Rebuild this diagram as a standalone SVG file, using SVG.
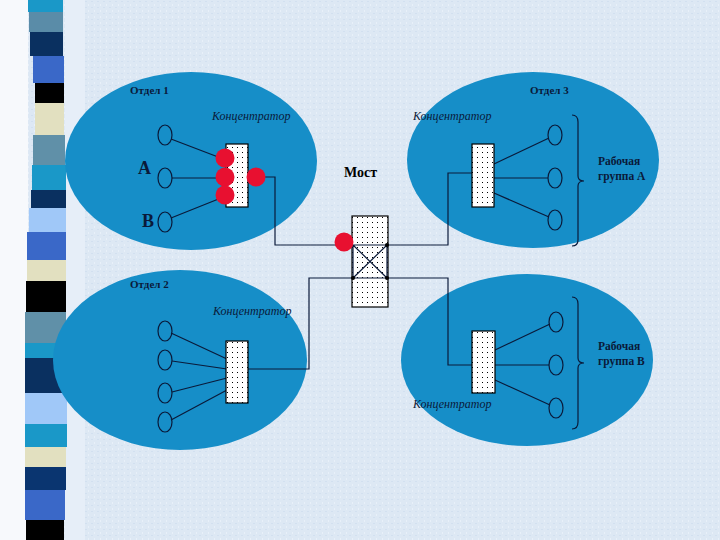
<svg xmlns="http://www.w3.org/2000/svg" width="720" height="540" viewBox="0 0 720 540">
<defs>
<pattern id="dots" x="0" y="0" width="5" height="5" patternUnits="userSpaceOnUse">
<rect width="5" height="5" fill="#ffffff"/>
<rect x="2" y="2" width="1" height="1" fill="#000000"/>
</pattern>
<pattern id="speck" x="0" y="0" width="6" height="6" patternUnits="userSpaceOnUse">
<rect width="6" height="6" fill="#dde8f4"/>
<rect x="1" y="1" width="2" height="1" fill="#d2e0f0"/>
<rect x="4" y="4" width="1" height="2" fill="#e8f0f9"/>
</pattern>
<style>
.dept{fill:#168ec8;}
.hub{fill:url(#dots);stroke:#000;stroke-width:1.2;}
.pc{fill:none;stroke:#0a1a3a;stroke-width:1.2;}
.ln{fill:none;stroke:#0a1a3a;stroke-width:1.2;}
.red{fill:#e81030;}
.dot{fill:#000;}
.t1{font-family:"Liberation Serif",serif;font-weight:bold;font-size:11px;fill:#0a1a3a;}
.tk{font-family:"Liberation Serif",serif;font-style:italic;font-size:12px;fill:#0a1a3a;}
.tb{font-family:"Liberation Serif",serif;font-weight:bold;font-size:18px;fill:#0a1a3a;}
.tm{font-family:"Liberation Serif",serif;font-weight:bold;font-size:14px;fill:#000;}
.tg{font-family:"Liberation Serif",serif;font-weight:bold;font-size:11.5px;fill:#0a1a3a;}
</style>
</defs>
<g id="background">
<rect width="720" height="540" fill="url(#speck)"/>
<rect x="0" y="0" width="28" height="540" fill="#f7f9fc"/>
<rect x="65" y="0" width="20" height="540" fill="#e6eef8"/>
<g id="stripes">
<rect x="28" y="0" width="35" height="12" fill="#1a98c8"/>
<rect x="29" y="12" width="34" height="20" fill="#5a8ca8"/>
<rect x="30" y="32" width="33" height="24" fill="#0a3060"/>
<rect x="33" y="56" width="31" height="27" fill="#3a68c8"/>
<rect x="35" y="83" width="29" height="20" fill="#000000"/>
<rect x="35" y="103" width="29" height="32" fill="#e2e0c0"/>
<rect x="33" y="135" width="32" height="30" fill="#6090a8"/>
<rect x="32" y="165" width="34" height="25" fill="#1a98c8"/>
<rect x="31" y="190" width="35" height="18" fill="#0a3060"/>
<rect x="29" y="208" width="37" height="24" fill="#a0c8f8"/>
<rect x="27" y="232" width="39" height="28" fill="#3a68c8"/>
<rect x="27" y="260" width="39" height="21" fill="#e2e0c0"/>
<rect x="26" y="281" width="40" height="31" fill="#000000"/>
<rect x="25" y="312" width="41" height="31" fill="#6090a8"/>
<rect x="25" y="343" width="41" height="15" fill="#1a98c8"/>
<rect x="25" y="358" width="41" height="35" fill="#0a3060"/>
<rect x="25" y="393" width="42" height="31" fill="#a0c8f8"/>
<rect x="25" y="424" width="42" height="23" fill="#1a98c8"/>
<rect x="25" y="447" width="41" height="20" fill="#e2e0c0"/>
<rect x="25" y="467" width="41" height="23" fill="#0a3570"/>
<rect x="25" y="490" width="40" height="30" fill="#3a68c8"/>
<rect x="26" y="520" width="38" height="20" fill="#000000"/>
</g>
</g>
<g id="dept1">
<ellipse class="dept" cx="191" cy="161" rx="126" ry="89"/>
<text class="t1" x="130" y="94">Отдел 1</text>
<text class="tk" x="212" y="120">Концентратор</text>
</g>
<g id="dept3">
<ellipse class="dept" cx="533" cy="160" rx="126" ry="88"/>
<text class="t1" x="530" y="94">Отдел 3</text>
<text class="tk" x="413" y="120">Концентратор</text>
</g>
<g id="dept2">
<ellipse class="dept" cx="180" cy="360" rx="127" ry="90"/>
<text class="t1" x="130" y="288">Отдел 2</text>
<text class="tk" x="213" y="315">Концентратор</text>
</g>
<g id="dept4">
<ellipse class="dept" cx="527" cy="360" rx="126" ry="86"/>
</g>
<g id="connectors">
<path class="ln" d="M248,177 H275 V245 H448 V173 H472"/>
<path class="ln" d="M248,369 H309 V278 H448 V365 H472"/>
<path class="ln" d="M171,139 L226,160 M172,178 L226,178 M171,218 L226,196"/>
<path class="ln" d="M494,164 L549,138 M494,178 L548,178 M494,193 L549,217"/>
<path class="ln" d="M171,333 L227,359 M172,361 L227,369 M172,392 L227,378 M171,420 L227,390"/>
<path class="ln" d="M495,350 L550,324 M495,365 L549,365 M495,380 L550,405"/>
</g>
<g id="hub1">
<rect class="hub" x="226" y="144" width="22" height="63"/>
<circle class="red" cx="225" cy="158" r="9.5"/>
<circle class="red" cx="225" cy="177" r="9.5"/>
<circle class="red" cx="225" cy="195" r="9.5"/>
<circle class="red" cx="256" cy="177" r="9.5"/>
</g>
<g id="pcs1">
<ellipse class="pc" cx="165" cy="135" rx="7" ry="10"/>
<ellipse class="pc" cx="165" cy="178" rx="7" ry="10"/>
<ellipse class="pc" cx="165" cy="222" rx="7" ry="10"/>
<text class="tb" x="138" y="174">A</text>
<text class="tb" x="142" y="227">B</text>
</g>
<g id="hub3">
<rect class="hub" x="472" y="144" width="22" height="63"/>
</g>
<g id="pcs3">
<ellipse class="pc" cx="555" cy="135" rx="7" ry="10"/>
<ellipse class="pc" cx="555" cy="178" rx="7" ry="10"/>
<ellipse class="pc" cx="555" cy="220" rx="7" ry="10"/>
<path class="ln" d="M572,115 Q578,115 578,122 L578,176 Q578,181 584,181 Q578,181 578,186 L578,240 Q578,246 572,246"/>
<text class="tg" x="598" y="165">Рабочая</text>
<text class="tg" x="598" y="180">группа А</text>
</g>
<g id="hub2">
<rect class="hub" x="226" y="341" width="22" height="62"/>
</g>
<g id="pcs2">
<ellipse class="pc" cx="165" cy="331" rx="7" ry="10"/>
<ellipse class="pc" cx="165" cy="360" rx="7" ry="10"/>
<ellipse class="pc" cx="165" cy="393" rx="7" ry="10"/>
<ellipse class="pc" cx="165" cy="422" rx="7" ry="10"/>
</g>
<g id="hub4">
<rect class="hub" x="472" y="331" width="23" height="62"/>
<text class="tk" x="413" y="408">Концентратор</text>
</g>
<g id="pcs4">
<ellipse class="pc" cx="556" cy="322" rx="7" ry="10"/>
<ellipse class="pc" cx="556" cy="365" rx="7" ry="10"/>
<ellipse class="pc" cx="556" cy="408" rx="7" ry="10"/>
<path class="ln" d="M572,297 Q578,297 578,304 L578,358 Q578,363 584,363 Q578,363 578,368 L578,422 Q578,429 572,429"/>
<text class="tg" x="598" y="350">Рабочая</text>
<text class="tg" x="598" y="365">группа В</text>
</g>
<g id="bridge">
<rect class="hub" x="352" y="216" width="36" height="91"/>
<path class="ln" d="M352,245 H388 M352,278 H388 M353,245 V278 M387,245 V278 M353,245 L387,278 M387,245 L353,278"/>
<circle class="dot" cx="387" cy="245" r="2"/>
<circle class="dot" cx="353" cy="278" r="2"/>
<circle class="dot" cx="387" cy="278" r="2"/>
<circle class="red" cx="344" cy="242" r="9.5"/>
<text class="tm" x="344" y="177">Мост</text>
</g>
</svg>
